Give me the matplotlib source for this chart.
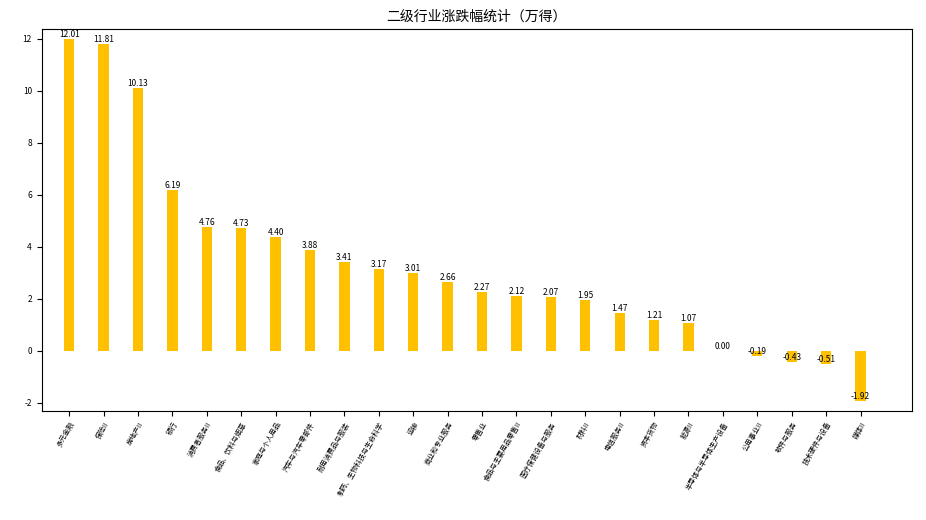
import matplotlib
matplotlib.use("Agg")
import matplotlib.pyplot as plt

plt.rcParams['font.family'] = ['Noto Sans CJK SC', 'DejaVu Sans']
plt.rcParams['axes.unicode_minus'] = False

categories = ["多元金融", "保险II", "房地产II", "银行", "消费者服务II", "食品、饮料与烟草",
              "家庭与个人用品", "汽车与汽车零部件", "耐用消费品与服装", "制药、生物科技与生命科学",
              "运输", "商业和专业服务", "零售业", "食品与主要用品零售II", "医疗保健设备与服务",
              "材料II", "电信服务II", "资本货物", "能源II", "半导体与半导体生产设备",
              "公用事业II", "软件与服务", "技术硬件与设备", "媒体II"]
values = [12.01, 11.81, 10.13, 6.19, 4.76, 4.73, 4.40, 3.88, 3.41, 3.17, 3.01, 2.66,
          2.27, 2.12, 2.07, 1.95, 1.47, 1.21, 1.07, 0.00, -0.19, -0.43, -0.51, -1.92]

fig = plt.figure(figsize=(9.26, 5.2), dpi=100)
ax = fig.add_axes([0.045, 0.21, 0.94, 0.735])
x = range(len(categories))
ax.bar(x, values, width=0.3, color='#FFC000')
for i, v in zip(x, values):
    ax.text(i, v, f"{v:.2f}", ha='center', va='bottom', fontsize=6)
ax.set_xticks(list(x))
ax.set_xticklabels(categories, rotation=60, ha='right', fontsize=5, rotation_mode='anchor')
ax.tick_params(axis='both', labelsize=6)
ax.tick_params(axis='x', labelsize=5)
ax.set_xlim(-0.8, 24.5)
ax.set_ylim(-2.3, 12.4)
ax.set_title("二级行业涨跌幅统计（万得）", fontsize=10)
fig.savefig("out.png", dpi=100)
